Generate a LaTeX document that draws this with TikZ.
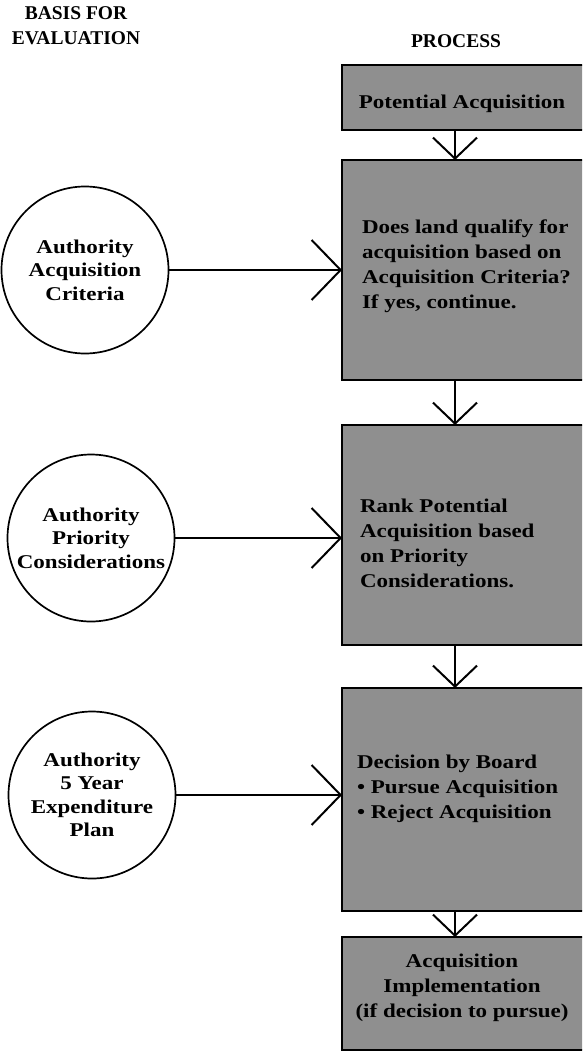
\documentclass[tikz,border=0pt]{standalone}
\usepackage{fontspec}
\setmainfont{Liberation Serif}
\newfontfamily\widefont{Liberation Serif}[FakeStretch=1.18]
\usetikzlibrary{arrows.meta}
\newcommand{\boxtxt}{\widefont\fontsize{19.5}{25}\selectfont\bfseries}
\newcommand{\circtxt}{\widefont\fontsize{19.5}{23.5}\selectfont\bfseries}
\newcommand{\headtxt}{\fontsize{19.5}{25}\selectfont\bfseries}
\tikzset{
  procbox/.style={draw=black, line width=2.6pt, fill=black!44, rectangle,
    minimum width=270pt, anchor=north west, inner sep=0pt, outer sep=0pt},
  basis/.style={draw=black, circle, line width=1.7pt, minimum size=167pt,
    inner sep=0pt, outer sep=0pt, align=center, font=\circtxt},
  bigarrow/.style={line width=2pt, -{Straight Barb[length=29pt,width=60pt,line width=2pt]}},
  smallarrow/.style={line width=2pt, -{Straight Barb[length=21pt,width=44pt,line width=2pt]}},
  boxlabel/.style={font=\boxtxt, inner sep=0pt, outer sep=0pt},
  heading/.style={font=\headtxt, align=center, inner sep=0pt, outer sep=0pt},
}
\begin{document}
\begin{tikzpicture}[x=1pt,y=-1pt]
\useasboundingbox (0,0) rectangle (582,1052);
\fill[white] (0,0) rectangle (582,1052);
\clip (0,0) rectangle (582,1052);

% headings
\node[heading, anchor=north] (hl) at (76,7) {BASIS FOR\\EVALUATION};
\node[heading, anchor=base] (hr) at (456,47) {PROCESS};

% process boxes
\node[procbox, minimum height=65pt]  (b1) at (342,65)  {};
\node[procbox, minimum height=220pt] (b2) at (342,160) {};
\node[procbox, minimum height=220pt] (b3) at (342,425) {};
\node[procbox, minimum height=223pt] (b4) at (342,688) {};
\node[procbox, minimum height=113pt, line width=2pt] (b5) at (342,937) {};

% box texts
\node[boxlabel, anchor=base] (t1) at (462,108) {Potential Acquisition};
\node[boxlabel, anchor=north west, align=left] (t2) at (362,220)
  {Does land qualify for\\acquisition based on\\Acquisition Criteria?\\If yes, continue.};
\node[boxlabel, anchor=north west, align=left] (t3) at (360,499)
  {Rank Potential\\Acquisition based\\on Priority\\Considerations.};
\node[boxlabel, anchor=north west, align=left] (t4) at (357,755)
  {Decision by Board\\\textbullet{} Pursue Acquisition\\\textbullet{} Reject Acquisition};
\node[boxlabel, anchor=north, align=center] (t5) at (462,954)
  {Acquisition\\Implementation\\(if decision to pursue)};

% basis circles
\node[basis] (c1) at (85,270) {Authority\\Acquisition\\Criteria};
\node[basis] (c2) at (91,538) {Authority\\Priority\\Considerations};
\node[basis] (c3) at (92,795) {Authority\\5 Year\\Expenditure\\Plan};

% vertical arrows
\coordinate (ax) at (455,0);
\draw[smallarrow] (b1.south -| ax) -- (b2.north -| ax);
\draw[smallarrow] (b2.south -| ax) -- (b3.north -| ax);
\draw[smallarrow] (b3.south -| ax) -- (b4.north -| ax);
\draw[smallarrow] (b4.south -| ax) -- (b5.north -| ax);

% horizontal arrows
\draw[bigarrow] (c1.east) -- (c1.east -| b2.west);
\draw[bigarrow] (c2.east) -- (c2.east -| b3.west);
\draw[bigarrow] (c3.east) -- (c3.east -| b4.west);
\end{tikzpicture}
\end{document}
